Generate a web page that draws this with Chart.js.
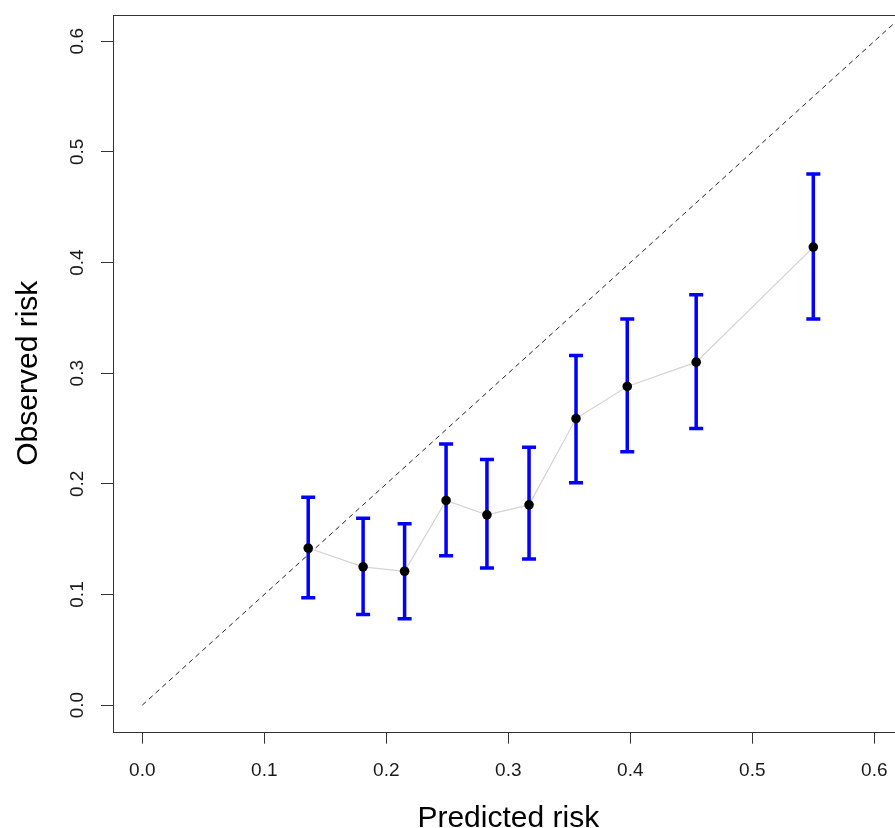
<!DOCTYPE html>
<html>
<head>
<meta charset="utf-8">
<script src="https://cdn.jsdelivr.net/npm/chart.js@4.4.1/dist/chart.umd.min.js"></script>
<style>
html,body{margin:0;padding:0;overflow:hidden;background:#fff;}
#wrap{position:absolute;left:0;top:0;width:920px;height:828px;}
</style>
</head>
<body>
<div id="wrap"><canvas id="c"></canvas></div>
<script>
// ---- data ----
const predicted = [0.136, 0.181, 0.215, 0.249, 0.2825, 0.317, 0.3555, 0.3975, 0.454, 0.550];
const observed  = [0.142, 0.125, 0.121, 0.185, 0.172, 0.181, 0.259, 0.288, 0.310, 0.414];
const lowerCI   = [0.097, 0.082, 0.078, 0.135, 0.124, 0.132, 0.201, 0.229, 0.250, 0.349];
const upperCI   = [0.188, 0.169, 0.164, 0.236, 0.222, 0.233, 0.316, 0.349, 0.371, 0.480];
const diagonal  = [0, 0.7];
const xTicks    = [0.0, 0.1, 0.2, 0.3, 0.4, 0.5, 0.6];
const yTicks    = [0.0, 0.1, 0.2, 0.3, 0.4, 0.5, 0.6];
const xTitle = 'Predicted risk';
const yTitle = 'Observed risk';

const FONT = '"Liberation Sans", Arial, sans-serif';
const AXIS_COLOR = '#333';

const points = predicted.map((p, i) => ({x: p, y: observed[i]}));

const overlay = {
  id: 'overlay',
  beforeDatasetDraw(chart, args) {
    if (args.index !== 2) return;
    const ctx = chart.ctx, xs = chart.scales.x, ys = chart.scales.y;
    ctx.save();
    ctx.strokeStyle = '#0000FF';
    ctx.lineWidth = 3.5;
    ctx.lineCap = 'butt';
    for (let i = 0; i < predicted.length; i++) {
      const px = xs.getPixelForValue(predicted[i]);
      const lo = ys.getPixelForValue(lowerCI[i]);
      const hi = ys.getPixelForValue(upperCI[i]);
      ctx.beginPath();
      ctx.moveTo(px, lo); ctx.lineTo(px, hi);
      ctx.moveTo(px - 7, lo); ctx.lineTo(px + 7, lo);
      ctx.moveTo(px - 7, hi); ctx.lineTo(px + 7, hi);
      ctx.stroke();
    }
    ctx.restore();
  },
  afterDraw(chart) {
    const ctx = chart.ctx, a = chart.chartArea, ys = chart.scales.y;
    ctx.save();
    // box
    ctx.strokeStyle = AXIS_COLOR;
    ctx.lineWidth = 1;
    ctx.strokeRect(Math.round(a.left) + 0.5, Math.round(a.top) + 0.5,
                   Math.round(a.right - a.left), Math.round(a.bottom - a.top));
    // rotated y tick labels
    ctx.fillStyle = '#1a1a1a';
    ctx.font = '19px ' + FONT;
    ctx.textAlign = 'center';
    ctx.textBaseline = 'alphabetic';
    yTicks.forEach(v => {
      const py = ys.getPixelForValue(v);
      ctx.save();
      ctx.translate(83, py);
      ctx.rotate(-Math.PI / 2);
      ctx.fillText(v.toFixed(1), 0, 0);
      ctx.restore();
    });
    // axis titles
    ctx.fillStyle = '#000';
    ctx.font = '30px ' + FONT;
    ctx.save();
    ctx.translate(37, (a.top + a.bottom) / 2);
    ctx.rotate(-Math.PI / 2);
    ctx.fillText(yTitle, 0, 0);
    ctx.restore();
    ctx.fillText(xTitle, chart.scales.x.getPixelForValue(0.3), 826.5);
    ctx.restore();
  }
};

new Chart(document.getElementById('c'), {
  type: 'scatter',
  data: {
    datasets: [
      {
        data: diagonal.map(v => ({x: v, y: v})),
        showLine: true,
        borderColor: '#222',
        borderWidth: 1,
        borderDash: [5, 4],
        pointRadius: 0,
        order: 3
      },
      {
        data: points,
        showLine: true,
        borderColor: '#d3d3d3',
        borderWidth: 1.2,
        pointRadius: 0,
        order: 2
      },
      {
        data: points,
        showLine: false,
        pointRadius: 4.8,
        pointBackgroundColor: '#000',
        pointBorderColor: '#000',
        pointBorderWidth: 0,
        order: 1
      }
    ]
  },
  options: {
    responsive: true,
    maintainAspectRatio: false,
    animation: false,
    layout: {padding: {top: 14.7, right: 16.4, left: 0, bottom: 0}},
    plugins: {legend: {display: false}, tooltip: {enabled: false}},
    scales: {
      x: {
        type: 'linear',
        min: -0.024, max: 0.624,
        afterBuildTicks: s => { s.ticks = xTicks.map(v => ({value: v})); },
        afterFit: s => { s.height = 96.3; },
        grid: {drawOnChartArea: false, drawTicks: true, tickLength: 12, color: AXIS_COLOR, lineWidth: 1},
        border: {display: false},
        ticks: {
          font: {size: 19, family: FONT},
          color: '#1a1a1a',
          padding: 16,
          maxRotation: 0,
          callback: v => Number(v).toFixed(1)
        }
      },
      y: {
        type: 'linear',
        min: -0.024, max: 0.624,
        afterBuildTicks: s => { s.ticks = yTicks.map(v => ({value: v})); },
        afterFit: s => { s.width = 113; },
        grid: {drawOnChartArea: false, drawTicks: true, tickLength: 12, color: AXIS_COLOR, lineWidth: 1},
        border: {display: false},
        ticks: {display: false}
      }
    }
  },
  plugins: [overlay]
});
</script>
</body>
</html>
